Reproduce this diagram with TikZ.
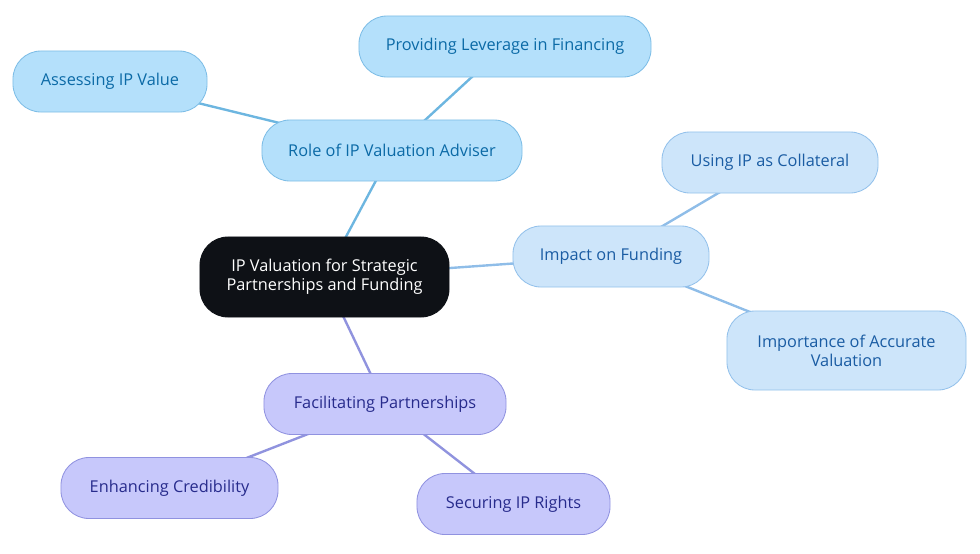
\documentclass[tikz,border=0pt]{standalone}
\usepackage{fontspec}
\setmainfont{Open Sans}
\usepackage{xcolor}
\usetikzlibrary{backgrounds}

\definecolor{rootfill}{HTML}{0E1116}
\definecolor{skyfill}{HTML}{B4E0FB}
\definecolor{skydraw}{HTML}{7DBDE6}
\definecolor{skytext}{HTML}{0B6AA6}
\definecolor{skyedge}{HTML}{6DB6E0}
\definecolor{palefill}{HTML}{CDE5FA}
\definecolor{paledraw}{HTML}{93C1EB}
\definecolor{paletext}{HTML}{1A5CA3}
\definecolor{paleedge}{HTML}{8FBDE8}
\definecolor{lilfill}{HTML}{C7C8FB}
\definecolor{lildraw}{HTML}{9092E0}
\definecolor{liltext}{HTML}{272B8C}
\definecolor{liledge}{HTML}{9093DE}

\begin{document}
\begin{tikzpicture}[x=0.025cm,y=-0.025cm,
  b/.style={draw,rounded corners=0.7cm,align=center,line width=0.6pt,
    font=\fontsize{11.6}{13.4}\selectfont,minimum height=1.525cm,inner xsep=0.5cm},
  root/.style={b,fill=rootfill,draw=rootfill,text=white,minimum height=2cm},
  sky/.style={b,fill=skyfill,draw=skydraw,text=skytext},
  pale/.style={b,fill=palefill,draw=paledraw,text=paletext},
  lil/.style={b,fill=lilfill,draw=lildraw,text=liltext},
  ln/.style={line width=1.7pt}]
\useasboundingbox (0,0) rectangle (980,553);
\node[root,minimum width=6.225cm] (ipv) at (324.5,277) {IP Valuation for Strategic\\Partnerships and Funding};
\node[sky,minimum width=6.5cm] (role) at (392,150.5) {Role of IP Valuation Adviser};
\node[sky,minimum width=7.3cm] (lev) at (505,46.5) {Providing Leverage in Financing};
\node[sky,minimum width=4.85cm] (ass) at (110,81.5) {Assessing IP Value};
\node[pale,minimum width=4.9cm] (imp) at (611,256.5) {Impact on Funding};
\node[pale,minimum width=5.4cm] (col) at (770,162.5) {Using IP as Collateral};
\node[pale,minimum width=5.975cm,minimum height=1.975cm] (acc) at (846.5,350.5) {Importance of Accurate\\Valuation};
\node[lil,minimum width=6.05cm] (fac) at (385,404) {Facilitating Partnerships};
\node[lil,minimum width=5.425cm] (cred) at (169.5,488) {Enhancing Credibility};
\node[lil,minimum width=4.825cm] (sec) at (513.5,504) {Securing IP Rights};
\begin{scope}[on background layer]
\draw[ln,skyedge] (ipv.center)--(role.center) (role.center)--(lev.center) (role.center)--(ass.center);
\draw[ln,paleedge] (ipv.center)--(imp.center) (imp.center)--(col.center) (imp.center)--(acc.center);
\draw[ln,liledge] (ipv.center)--(fac.center) (fac.center)--(cred.center) (fac.center)--(sec.center);
\end{scope}
\end{tikzpicture}
\end{document}
